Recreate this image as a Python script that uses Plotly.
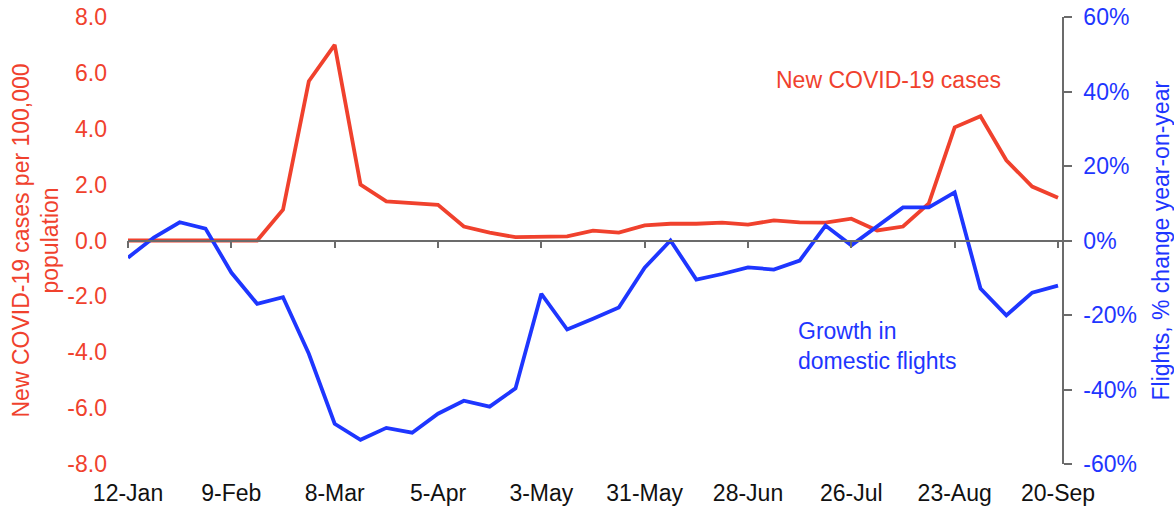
import pandas as pd
import plotly.graph_objects as go

# Weekly data, 12-Jan to 20-Sep
week_start = "2020-01-12"
n_weeks = 37
weeks = pd.date_range(week_start, periods=n_weeks, freq="7D")

cases_per_100k = [0.0, 0.0, 0.0, 0.0, 0.0, 0.0, 1.1, 5.7, 7.0, 2.0,
                  1.4, 1.35, 1.28, 0.5, 0.28, 0.12, 0.12, 0.15, 0.35, 0.28,
                  0.54, 0.6, 0.6, 0.64, 0.57, 0.72, 0.65, 0.64, 0.78, 0.36,
                  0.5, 1.33, 4.05, 4.45, 2.87, 1.93, 1.53]

flights_yoy = [-4.6, 0.8, 4.9, 3.2, -8.6, -17.0, -15.2, -30.4, -49.2, -53.5,
               -50.3, -51.6, -46.5, -43.0, -44.6, -39.7, -14.3, -23.9, -21.0, -18.0,
               -7.3, 0.0, -10.5, -9.0, -7.2, -7.8, -5.4, 4.0, -1.3, 3.7,
               8.9, 8.9, 12.9, -12.9, -20.1, -14.0, -12.1]

tick_labels = ["12-Jan", "9-Feb", "8-Mar", "5-Apr", "3-May",
               "31-May", "28-Jun", "26-Jul", "23-Aug", "20-Sep"]
tick_dates = list(weeks[::4])

left_ticks = [-8, -6, -4, -2, 0, 2, 4, 6, 8]
left_labels = ["-8.0", "-6.0", "-4.0", "-2.0", "0.0", "2.0", "4.0", "6.0", "8.0"]
right_ticks = [-60, -40, -20, 0, 20, 40, 60]
right_labels = ["-60%", "-40%", "-20%", "0%", "20%", "40%", "60%"]

RED = "#F0412D"
BLUE = "#1E36FF"
GREY = "#6b6b6b"
FONT = "Liberation Sans, Arial, sans-serif"
FS = 23

x_range = [weeks[0], weeks[-1] + pd.Timedelta(hours=26)]

fig = go.Figure()
fig.add_trace(go.Scatter(x=weeks, y=cases_per_100k, mode="lines",
                         line=dict(color=RED, width=3.8),
                         xaxis="x", yaxis="y", name="New COVID-19 cases",
                         showlegend=False))
fig.add_trace(go.Scatter(x=weeks, y=flights_yoy, mode="lines",
                         line=dict(color=BLUE, width=3.8),
                         xaxis="x2", yaxis="y2", name="Growth in domestic flights",
                         showlegend=False))

fig.update_layout(
    width=1174, height=513,
    margin=dict(l=128, r=112, t=17, b=49, autoexpand=False),
    paper_bgcolor="white", plot_bgcolor="white",
    font=dict(family=FONT, size=FS, color="#111111"),
    xaxis=dict(type="date", range=x_range, tickvals=tick_dates, ticktext=tick_labels,
               showgrid=False, zeroline=False, showline=False, ticks="", automargin=False,
               tickfont=dict(color="#111111", size=FS), ticklabelstandoff=13),
    xaxis2=dict(type="date", range=x_range, overlaying="x", anchor="free", position=0.5,
                tickvals=tick_dates, showticklabels=False, showgrid=False, zeroline=False,
                showline=True, linecolor=GREY, linewidth=1.5, automargin=False,
                ticks="outside", ticklen=7, tickcolor=GREY, tickwidth=1.5),
    yaxis=dict(range=[-8, 8], tickvals=left_ticks, ticktext=left_labels,
               showgrid=False, zeroline=False, showline=False, ticks="", automargin=False,
               tickfont=dict(color=RED, size=FS), ticklabelstandoff=20),
    yaxis2=dict(range=[-60, 60], tickvals=right_ticks, ticktext=right_labels,
                overlaying="y", side="right", anchor="x", automargin=False,
                showgrid=False, zeroline=False, showline=True, linecolor=GREY, linewidth=1.5,
                ticks="outside", ticklen=8, tickcolor=GREY, tickwidth=1.5,
                tickfont=dict(color=BLUE, size=FS), ticklabelstandoff=7),
)

fig.add_annotation(text="New COVID-19 cases per 100,000<br>population",
                   xref="paper", yref="paper", x=0, y=0.5, xshift=-93,
                   xanchor="center", yanchor="middle", textangle=-90,
                   showarrow=False, font=dict(color=RED, size=FS))
fig.add_annotation(text="Flights, % change year-on-year",
                   xref="paper", yref="paper", x=1, y=0.5, xshift=98,
                   xanchor="center", yanchor="middle", textangle=-90,
                   showarrow=False, font=dict(color=BLUE, size=FS))
fig.add_annotation(text="New COVID-19 cases",
                   xref="x", yref="y", x=weeks[25], y=5.73,
                   xanchor="left", yanchor="middle", showarrow=False,
                   font=dict(color=RED, size=FS))
fig.add_annotation(text="Growth in<br>domestic flights",
                   xref="x", yref="y", x=weeks[25] + pd.Timedelta(days=6), y=-3.76,
                   xanchor="left", yanchor="middle", align="left", showarrow=False,
                   font=dict(color=BLUE, size=FS))

fig.write_html("out.html", config={"displayModeBar": False},
               post_script="document.body.style.margin='0';document.body.style.overflow='hidden';")
